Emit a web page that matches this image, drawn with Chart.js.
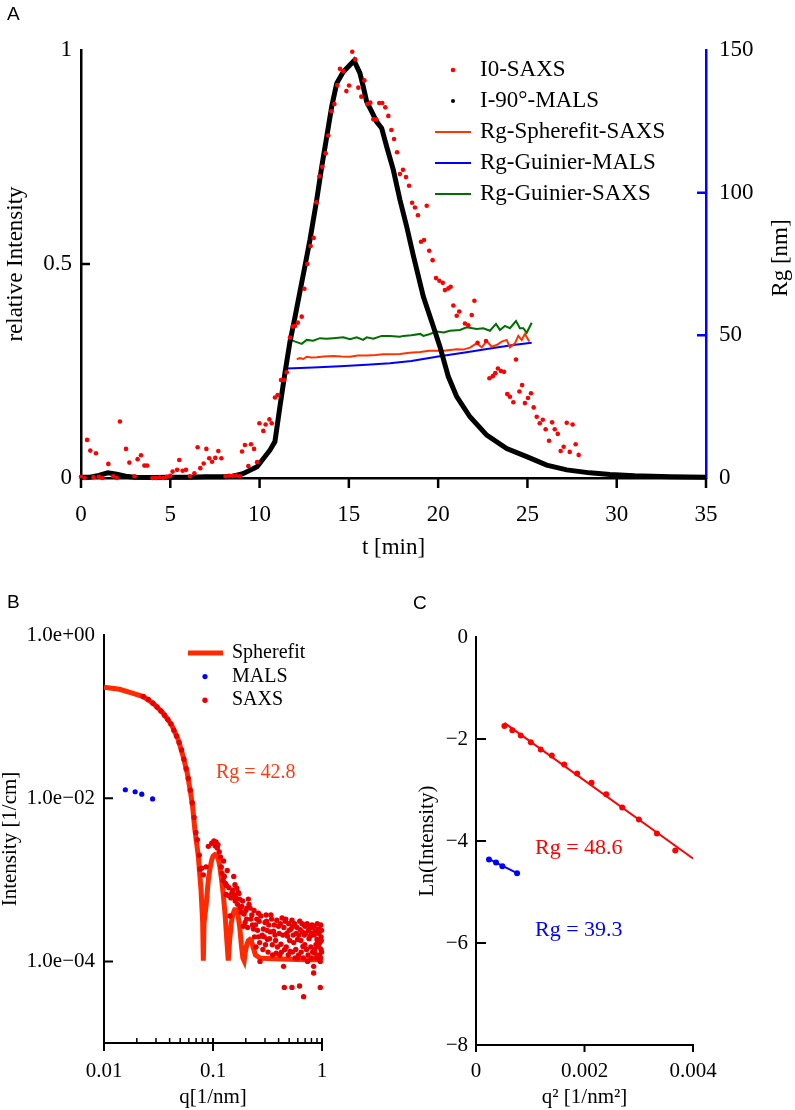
<!DOCTYPE html>
<html>
<head>
<meta charset="utf-8">
<script src="https://cdn.jsdelivr.net/npm/chart.js@4.4.0/dist/chart.umd.min.js"></script>
<style>
  body { margin: 0; background: #fff; }
  #page { position: relative; width: 795px; height: 1110px; }
  canvas { position: absolute; }
  .tag { position: absolute; z-index: 2; font-family: "Liberation Sans", Arial, sans-serif; font-size: 19px; color: #000; }
</style>
</head>
<body>
<div id="page">
  <canvas id="chartA" width="795" height="580" style="left:0;top:0"></canvas>
  <canvas id="chartB" width="400" height="520" style="left:0;top:590px"></canvas>
  <canvas id="chartC" width="395" height="520" style="left:400px;top:590px"></canvas>
  <div class="tag" style="left:7px;top:3px">A</div>
  <div class="tag" style="left:7px;top:591px">B</div>
  <div class="tag" style="left:413px;top:592px">C</div>
</div>
<script>
// ==================== PANEL A : elution ====================
const saxsT = [0.0, 0.2, 0.34, 0.52, 0.7, 0.84, 1.0, 1.2, 1.53, 1.8, 2.0, 2.18, 2.52, 2.71, 3.0, 3.17, 3.36, 3.55, 3.7,
  4.0, 4.2, 4.4, 4.6, 4.8, 5.0, 5.13, 5.38, 5.5, 5.69, 5.88, 6.1, 6.35, 6.53, 6.68, 6.87, 7.02, 7.18, 7.34, 7.52, 7.69, 7.86,
  8.1, 8.3, 8.5, 8.7, 8.9, 9.02, 9.18, 9.37, 9.52, 9.69, 9.86, 9.99, 10.21, 10.34, 10.55, 10.68, 10.86, 11.01, 11.2, 11.37,
  11.52, 11.7, 11.86, 11.98, 12.14, 12.36, 12.51, 12.67, 12.86, 13.03, 13.18, 13.35, 13.51, 13.7, 13.85, 14.02, 14.19, 14.35,
  14.5, 14.69, 14.86, 15.01, 15.19, 15.36, 15.53, 15.7, 15.87, 16.03, 16.2, 16.37, 16.54, 16.7, 16.87, 17.04, 17.21, 17.38,
  17.53, 17.7, 17.86, 18.03, 18.2, 18.37, 18.54, 18.7, 18.87, 19.04, 19.21, 19.36, 19.5, 19.69, 19.88, 20.07, 20.26, 20.38,
  20.57, 20.7, 20.85, 21.04, 21.18, 21.5, 21.69, 21.88, 22.03, 22.21, 22.68, 22.87, 23.06, 23.2, 23.35, 23.52, 23.69, 23.87,
  24.02, 24.21, 24.36, 24.55, 24.7, 24.86, 25.03, 25.2, 25.35, 25.52, 25.69, 25.86, 26.02, 26.21, 26.38, 26.53, 26.7, 26.86,
  27.03, 27.2, 27.37, 27.53, 27.7, 27.87];
const saxsI = [0.003, 0.0, 0.089, 0.064, 0.002, 0.058, 0.003, 0.0, 0.033, 0.004, 0.0, 0.132, 0.068, 0.036, 0.004, 0.044, 0.053, 0.029, 0.029,
  0.0, 0.0, 0.001, 0.0, 0.003, 0.005, 0.015, 0.019, 0.042, 0.017, 0.019, 0.004, 0.011, 0.072, 0.023, 0.034, 0.068, 0.046, 0.038, 0.047, 0.063, 0.046,
  0.004, 0.005, 0.005, 0.006, 0.004, 0.062, 0.077, 0.028, 0.079, 0.068, 0.037, 0.128, 0.11, 0.125, 0.137, 0.128, 0.188, 0.194, 0.229, 0.229,
  0.247, 0.328, 0.354, 0.355, 0.363, 0.377, 0.442, 0.5, 0.542, 0.561, 0.644, 0.705, 0.727, 0.759, 0.8, 0.857, 0.874, 0.918,
  0.956, 0.951, 0.904, 0.917, 0.996, 0.978, 0.912, 0.891, 0.929, 0.874, 0.877, 0.838, 0.838, 0.876, 0.876, 0.866, 0.846, 0.813,
  0.792, 0.761, 0.71, 0.72, 0.703, 0.683, 0.643, 0.632, 0.614, 0.552, 0.556, 0.636, 0.531, 0.509, 0.467, 0.461, 0.456, 0.439,
  0.443, 0.447, 0.403, 0.379, 0.389, 0.361, 0.357, 0.381, 0.414, 0.316, 0.32, 0.233, 0.238, 0.245, 0.256, 0.25, 0.248, 0.196,
  0.19, 0.177, 0.277, 0.202, 0.217, 0.175, 0.187, 0.198, 0.165, 0.143, 0.128, 0.136, 0.114, 0.087, 0.13, 0.114, 0.103, 0.063,
  0.073, 0.129, 0.061, 0.125, 0.079, 0.054];

const malsT = [0, 0.5, 1.0, 1.5, 2.0, 2.5, 3, 4, 5, 6, 7, 8, 8.5, 9.07, 9.86, 10.58, 10.86, 11.14, 11.42, 11.7, 11.98, 12.26,
  12.54, 12.82, 13.2, 13.48, 13.76, 14.04, 14.32, 14.69, 15.06, 15.29, 15.62, 15.81, 16.0, 16.28, 16.56, 16.84, 17.12, 17.49,
  17.86, 18.24, 18.61, 19.17, 19.73, 20.1, 20.57, 21.04, 21.78, 22.72, 23.84, 24.96, 26.08, 27.2, 28.5, 29.62, 31, 33, 35];
const malsI = [0.002, 0.002, 0.006, 0.012, 0.009, 0.004, 0.002, 0.001, 0.002, 0.002, 0.003, 0.003, 0.004, 0.01, 0.026, 0.065, 0.085, 0.167, 0.245, 0.318, 0.375, 0.435,
  0.495, 0.556, 0.65, 0.727, 0.797, 0.868, 0.922, 0.949, 0.965, 0.975, 0.946, 0.914, 0.879, 0.856, 0.832, 0.817, 0.774, 0.72,
  0.65, 0.587, 0.52, 0.424, 0.354, 0.307, 0.237, 0.19, 0.143, 0.1, 0.069, 0.05, 0.03, 0.019, 0.012, 0.008, 0.005, 0.003, 0.002];

const sphereT = [12.08, 12.26, 12.45, 12.64, 12.9, 13.2, 13.6, 14.13, 14.6, 15.06, 15.5, 16.0, 16.5, 16.93, 17.3, 17.86, 18.4, 19.0,
  19.5, 20.3, 21.04, 21.4, 21.78, 22.16, 22.44, 22.72, 23.0, 23.28, 23.56, 23.84, 24.02, 24.3, 24.49, 24.68, 24.86, 25.1];
const sphereRg = [41.6, 42.0, 41.7, 42.5, 42.2, 42.3, 42.6, 42.8, 42.6, 42.5, 42.9, 42.9, 43.1, 43.4, 43.4, 43.5, 43.9, 44.2,
  44.6, 44.6, 45.1, 45.0, 45.7, 47.2, 45.8, 48.0, 46.0, 46.6, 47.8, 48.4, 45.8, 47.2, 49.8, 48.4, 50.5, 47.8];

const guinMalsT = [11.52, 13, 14.5, 16, 17.3, 18.5, 20, 21.5, 23, 24.2, 25.24];
const guinMalsRg = [38.4, 38.7, 39.2, 39.7, 40.2, 41.0, 42.6, 44.0, 45.5, 46.6, 47.4];

const guinSaxsT = [11.7, 12.0, 12.36, 12.64, 13.0, 13.38, 13.75, 14.13, 14.69, 15.06, 15.44, 15.8, 16.0, 16.37, 16.84, 17.3, 17.86,
  18.05, 18.5, 19.0, 19.17, 19.5, 19.92, 20.3, 20.66, 21.22, 21.6, 22.16, 22.53, 22.9, 23.24, 23.46, 23.74, 24.02, 24.36, 24.58,
  24.77, 24.96, 25.24];
const guinSaxsRg = [48.6, 47.8, 47.0, 48.4, 48.1, 49.0, 48.8, 49.0, 49.3, 48.6, 49.3, 48.4, 49.3, 48.8, 49.8, 49.8, 49.5,
  49.8, 50.0, 50.5, 49.8, 50.4, 51.3, 51.0, 51.6, 51.9, 52.8, 52.2, 52.5, 51.6, 54.0, 51.9, 53.3, 52.5, 55.0, 52.5,
  52.5, 50.9, 54.4];

const tTicks = [0, 5, 10, 15, 20, 25, 30, 35];
const intTicks = [0, 0.5, 1];
const intTickLabels = ['0', '0.5', '1'];
const rgTicks = [0, 50, 100, 150];

// ==================== PANEL B : scattering curve ====================
const fitQ = [0.01, 0.0139, 0.0185, 0.0229, 0.0282, 0.0349, 0.0417, 0.048, 0.0533, 0.058, 0.0624, 0.065, 0.0682, 0.0733, 0.0776,
  0.0804, 0.0815, 0.0828, 0.0863, 0.0906, 0.094, 0.0973, 0.1, 0.104, 0.108, 0.112, 0.116, 0.12, 0.124, 0.129, 0.134, 0.138,
  0.142, 0.147, 0.152, 0.158, 0.164, 0.17, 0.176, 0.182, 0.188, 0.193, 0.198, 0.204, 0.211, 0.218, 0.225, 0.233, 0.245, 0.27,
  0.35, 0.5, 0.7, 1.0];
const fitI = [0.229, 0.216, 0.193, 0.176, 0.146, 0.110, 0.0794, 0.0519, 0.0324, 0.0204, 0.0115, 0.0079, 0.0041, 0.00195, 0.00076,
  0.0003, 0.000102, 0.0003, 0.00047, 0.001, 0.0014, 0.00175, 0.00195, 0.00204, 0.002, 0.00178, 0.0014, 0.001, 0.00068, 0.00038, 0.00018, 0.000102,
  0.00018, 0.00029, 0.00038, 0.00043, 0.00043, 0.00036, 0.00026, 0.00016, 0.00011, 0.000102, 0.00013, 0.00016, 0.00018, 0.000186, 0.00018, 0.00015, 0.00012, 0.00011,
  0.000108, 0.000106, 0.000105, 0.000105];

const malsQ = [0.0157, 0.0193, 0.0222, 0.0279];
const malsIq = [0.0127, 0.0120, 0.0112, 0.0098];

const saxsQ = [0.0229, 0.0255, 0.0281, 0.0307, 0.0333, 0.0359, 0.0385, 0.0411, 0.0437, 0.0463, 0.0489, 0.0515, 0.0541, 0.0567,
  0.0593, 0.0619, 0.0645, 0.0671, 0.0697, 0.0718, 0.0748, 0.0759, 0.0787, 0.0815, 0.0863, 0.0906, 0.0973, 0.102, 0.1066, 0.1096,
  0.114, 0.119, 0.124, 0.125, 0.13, 0.132, 0.135, 0.138, 0.143, 0.149, 0.155, 0.159, 0.16, 0.165, 0.17, 0.175, 0.184, 0.19, 0.197,
  0.205, 0.211, 0.219, 0.227, 0.235, 0.245, 0.248, 0.26, 0.261, 0.27, 0.28, 0.29, 0.30, 0.31, 0.316, 0.32, 0.33, 0.34, 0.35,
  0.359, 0.37, 0.38, 0.399, 0.41, 0.42, 0.43, 0.444, 0.451, 0.46, 0.47, 0.483, 0.5, 0.51, 0.53, 0.53, 0.541, 0.55, 0.568, 0.58,
  0.597, 0.61, 0.622, 0.631, 0.64, 0.656, 0.668, 0.678, 0.69, 0.701, 0.72, 0.737, 0.75, 0.78, 0.8, 0.81, 0.826, 0.838, 0.838,
  0.85, 0.863, 0.88, 0.9, 0.92, 0.931, 0.95, 0.964, 0.964, 0.964, 0.98, 0.98,
  0.105, 0.111, 0.117, 0.121, 0.127, 0.133, 0.14, 0.146, 0.152, 0.157, 0.162, 0.168, 0.173, 0.178, 0.181, 0.187, 0.193, 0.2,
  0.203, 0.208, 0.214, 0.222, 0.23, 0.238, 0.24, 0.252, 0.256, 0.265, 0.268, 0.275, 0.283, 0.287, 0.295, 0.303, 0.307, 0.313,
  0.325, 0.335, 0.345, 0.353, 0.365, 0.375, 0.385, 0.39, 0.405, 0.415, 0.425, 0.437, 0.447, 0.455, 0.465, 0.475, 0.49, 0.495,
  0.505, 0.52, 0.535, 0.545, 0.56, 0.575, 0.59, 0.6, 0.615, 0.625, 0.645, 0.66, 0.675, 0.685, 0.695, 0.71, 0.73, 0.745, 0.76,
  0.77, 0.79, 0.805, 0.82, 0.845, 0.855, 0.87, 0.89, 0.905, 0.915, 0.94, 0.955, 0.97, 0.975, 0.99, 0.99, 0.985];
const saxsIq = [0.176, 0.162, 0.146, 0.131, 0.117, 0.104, 0.092, 0.081, 0.068, 0.058, 0.048, 0.039, 0.030, 0.023,
  0.0175, 0.0125, 0.0088, 0.0058, 0.0038, 0.0031, 0.0020, 0.00135, 0.00139, 0.00115, 0.00144, 0.00257, 0.0028, 0.0030, 0.0029, 0.00245,
  0.0022, 0.00144, 0.00098, 0.0017, 0.0009, 0.00066, 0.0013, 0.00064, 0.00036, 0.00069, 0.0011, 0.00087, 0.00055, 0.00079, 0.0007, 0.00058, 0.00047, 0.00027, 0.0003,
  0.00045, 0.00058, 0.00045, 0.00037, 0.00025, 0.00028, 0.00015, 0.0002, 0.00039, 0.0001, 0.000204, 0.00025, 0.0003, 0.00031, 0.000186, 0.00013, 0.00019, 0.00037, 0.00016,
  0.000234, 0.00021, 0.000126, 0.00027, 0.00012, 0.000162, 0.00034, 0.000087, 0.000048, 0.00031, 0.00015, 0.000204, 0.00024, 0.000132, 0.00032, 0.000048, 0.00027, 0.00017, 0.00011, 0.00022,
  0.000186, 0.00012, 0.00005, 0.000245, 0.00018, 0.00029, 0.000152, 0.000037, 0.00021, 0.00027, 0.00014, 0.0001, 0.00024, 0.000204, 0.00011, 0.00028, 0.000257, 0.000072, 0.000087,
  0.00021, 0.000126, 0.00016, 0.000186, 0.00025, 0.000152, 0.00012, 0.000245, 0.0001, 0.000048, 0.0002, 0.00014,
  0.0026, 0.0027, 0.0019, 0.0012, 0.0011, 0.00085, 0.0008, 0.0006, 0.00075, 0.00065, 0.0006, 0.0005, 0.00068, 0.00045, 0.0004, 0.00055, 0.00038, 0.00042,
  0.00033, 0.00026, 0.0005, 0.00033, 0.00028, 0.00042, 0.0002, 0.00033, 0.00024, 0.00031, 0.00017, 0.00036, 0.00021, 0.00014, 0.0002, 0.00016, 0.00037, 0.00024,
  0.00028, 0.00023, 0.00033, 0.00012, 0.00028, 0.00018, 0.00032, 0.00015, 0.00022, 0.00029, 0.00013, 0.00021, 0.00026, 0.00014, 0.00033, 0.00022, 0.00012, 0.00029,
  0.00018, 0.00025, 0.00013, 0.00021, 0.00029, 0.00014, 0.00026, 0.00011, 0.00021, 0.00031, 0.00013, 0.00023, 0.00011, 0.00028, 0.00016, 0.00022, 0.00029, 0.00012, 0.00019,
  0.00027, 0.00015, 0.00022, 0.00013, 0.00027, 0.00014, 0.00023, 0.00011, 0.00029, 0.00018, 0.00022, 0.00017, 0.00011, 0.00028, 0.00024, 0.00013, 0.00018];

const qTicks = [0.01, 0.1, 1];
const qTickLabels = ['0.01', '0.1', '1'];
const qMinor = [0.02, 0.03, 0.04, 0.05, 0.06, 0.07, 0.08, 0.09, 0.2, 0.3, 0.4, 0.5, 0.6, 0.7, 0.8, 0.9];
const iTicks = [0.0001, 0.01, 1];
const iTickLabels = ['1.0e\u221204', '1.0e\u221202', '1.0e+00'];

// ==================== PANEL C : Guinier plot ====================
const gSaxsQ2 = [0.000523, 0.00067, 0.000825, 0.00101, 0.001194, 0.001397, 0.001625, 0.001864, 0.002129, 0.0024, 0.002695, 0.003003, 0.003335, 0.003673];
const gSaxsLn = [-1.744, -1.828, -1.932, -2.063, -2.207, -2.324, -2.5, -2.677, -2.86, -3.082, -3.343, -3.578, -3.852, -4.185];
const gSaxsFitQ2 = [0.000523, 0.004];
const gSaxsFitLn = [-1.685, -4.342];
const gMalsQ2 = [0.00024, 0.000369, 0.000486, 0.000757];
const gMalsLn = [-4.362, -4.421, -4.493, -4.63];
const gMalsFitQ2 = [0.00024, 0.000757];
const gMalsFitLn = [-4.355, -4.63];

const q2Ticks = [0, 0.002, 0.004];
const q2TickLabels = ['0', '0.002', '0.004'];
const lnTicks = [-8, -6, -4, -2, 0];
const lnTickLabels = ['\u22128', '\u22126', '\u22124', '\u22122', '0'];

// ==================== HELPERS ====================
const SERIF = '"Liberation Serif", "Times New Roman", serif';
Chart.defaults.font.family = SERIF;
Chart.defaults.color = '#000';

const pts = (xs, ys) => xs.map((x, i) => ({ x: x, y: ys[i] }));

// tick marks, legend and free text drawn on top of the chart
const decor = {
  id: 'decor',
  afterDraw(chart, args, opts) {
    const ctx = chart.ctx;
    ctx.save();
    (opts.ticks || []).forEach(t => {
      const s = chart.scales[t.scale];
      ctx.strokeStyle = t.color || '#000';
      ctx.lineWidth = t.width || 2;
      ctx.beginPath();
      t.values.forEach(v => {
        const p = s.getPixelForValue(v);
        if (s.isHorizontal()) {
          ctx.moveTo(p, s.top - t.inner);
          ctx.lineTo(p, s.top + t.outer);
        } else if (s.position === 'left') {
          ctx.moveTo(s.right - t.outer, p);
          ctx.lineTo(s.right + t.inner, p);
        } else {
          ctx.moveTo(s.left - t.inner, p);
          ctx.lineTo(s.left + t.outer, p);
        }
      });
      ctx.stroke();
    });

    const lg = opts.legend;
    if (lg) {
      ctx.font = lg.font;
      ctx.textBaseline = 'middle';
      ctx.textAlign = 'left';
      chart.data.datasets.forEach((ds, i) => {
        if (!ds.legendKind) return;
        const y = lg.y + i * lg.rowH;
        if (ds.legendKind === 'dot') {
          ctx.fillStyle = ds.pointBackgroundColor || ds.borderColor;
          ctx.beginPath();
          ctx.arc(lg.markX, y, ds.legendRadius || 2.5, 0, Math.PI * 2);
          ctx.fill();
        } else {
          ctx.strokeStyle = ds.borderColor;
          ctx.lineWidth = ds.borderWidth;
          ctx.beginPath();
          ctx.moveTo(lg.lineX0, y);
          ctx.lineTo(lg.lineX1, y);
          ctx.stroke();
        }
        ctx.fillStyle = '#000';
        ctx.fillText(ds.label, lg.textX, y);
      });
    }

    (opts.texts || []).forEach(t => {
      ctx.save();
      ctx.font = t.font;
      ctx.fillStyle = t.color || '#000';
      ctx.textAlign = t.align || 'left';
      ctx.textBaseline = 'middle';
      ctx.translate(t.x, t.y);
      if (t.rotate) ctx.rotate(t.rotate);
      ctx.fillText(t.text, 0, 0);
      ctx.restore();
    });
    ctx.restore();
  }
};

const dotSet = (label, data, color, r, order, extra) => Object.assign({
  label: label, data: data, showLine: false, pointRadius: r, pointBorderWidth: 0,
  pointBackgroundColor: color, pointBorderColor: color, borderColor: color,
  order: order, clip: false, legendKind: 'dot', legendRadius: r
}, extra || {});

const lineSet = (label, data, color, w, order, extra) => Object.assign({
  label: label, data: data, showLine: true, pointRadius: 0, borderColor: color,
  borderWidth: w, tension: 0, order: order, clip: false, legendKind: 'line'
}, extra || {});

const baseOpts = {
  responsive: false,
  animation: false,
  devicePixelRatio: 1,
  events: []
};

// ==================== CHART A ====================
new Chart(document.getElementById('chartA'), {
  type: 'scatter',
  data: {
    datasets: [
      dotSet('I0-SAXS', pts(saxsT, saxsI), '#ff0000', 2.3, 0, { yAxisID: 'y' }),
      lineSet('I-90°-MALS', pts(malsT, malsI), '#000000', 5, 1, { yAxisID: 'y', legendKind: 'dot', legendRadius: 2, pointBackgroundColor: '#000' }),
      lineSet('Rg-Spherefit-SAXS', pts(sphereT, sphereRg), '#ff3300', 2, 3, { yAxisID: 'y2' }),
      lineSet('Rg-Guinier-MALS', pts(guinMalsT, guinMalsRg), '#0000ff', 2, 4, { yAxisID: 'y2' }),
      lineSet('Rg-Guinier-SAXS', pts(guinSaxsT, guinSaxsRg), '#006e00', 2, 2, { yAxisID: 'y2' })
    ]
  },
  options: Object.assign({}, baseOpts, {
    layout: { padding: { top: 50, left: 0, right: 0, bottom: 0 } },
    scales: {
      x: {
        type: 'linear', min: 0, max: 35,
        afterFit: s => { s.height = 102; },
        afterBuildTicks: s => { s.ticks = tTicks.map(v => ({ value: v })); },
        ticks: { font: { size: 23 }, color: '#000', padding: 23, maxRotation: 0, autoSkip: false },
        grid: { display: false, drawTicks: false },
        border: { color: '#000', width: 2.5 },
        title: { display: true, text: 't [min]', font: { size: 23 }, color: '#000', padding: { top: 0, bottom: 18 } }
      },
      y: {
        position: 'left', min: 0, max: 1,
        afterFit: s => { s.width = 81; },
        afterBuildTicks: s => { s.ticks = intTicks.map(v => ({ value: v })); },
        ticks: { font: { size: 23 }, color: '#000', padding: 9, callback: (v, i) => intTickLabels[i] },
        grid: { display: false, drawTicks: false },
        border: { color: '#000', width: 2.5 },
        title: { display: true, text: 'relative Intensity', font: { size: 23 }, color: '#000', padding: { top: 2, bottom: 0 } }
      },
      y2: {
        position: 'right', min: 0, max: 150,
        afterFit: s => { s.width = 89; },
        afterBuildTicks: s => { s.ticks = rgTicks.map(v => ({ value: v })); },
        ticks: { font: { size: 23 }, color: '#000', padding: 13 },
        grid: { display: false, drawTicks: false },
        border: { color: '#0000ff', width: 2.5 }
      }
    },
    plugins: {
      legend: { display: false },
      tooltip: { enabled: false },
      decor: {
        ticks: [
          { scale: 'x', values: tTicks, inner: 0, outer: 10, width: 2.5 },
          { scale: 'y', values: [0.5], inner: 9, outer: 0, width: 2.5 },
          { scale: 'y2', values: [50, 100], inner: 9, outer: 0, width: 2.5, color: '#0000ff' }
        ],
        legend: { font: '23px ' + SERIF, y: 70, rowH: 31, markX: 453, lineX0: 435, lineX1: 471, textX: 480 },
        texts: [
          { text: 'Rg [nm]', x: 781, y: 258, font: '23px ' + SERIF, align: 'center', rotate: -Math.PI / 2 }
        ]
      }
    }
  }),
  plugins: [decor]
});

// ==================== CHART B ====================
new Chart(document.getElementById('chartB'), {
  type: 'scatter',
  data: {
    datasets: [
      lineSet('Spherefit', pts(fitQ, fitI), '#ff2a00', 5, 2),
      dotSet('MALS', pts(malsQ, malsIq), '#0000ff', 2.6, 1),
      dotSet('SAXS', pts(saxsQ, saxsIq), '#e80000', 2.7, 0)
    ]
  },
  options: Object.assign({}, baseOpts, {
    layout: { padding: { top: 45, left: 0, right: 78, bottom: 0 } },
    scales: {
      x: {
        type: 'logarithmic', min: 0.01, max: 1,
        afterFit: s => { s.height = 67; },
        afterBuildTicks: s => { s.ticks = qTicks.map(v => ({ value: v })); },
        ticks: { font: { size: 21 }, color: '#000', padding: 16, maxRotation: 0, autoSkip: false, callback: (v, i) => qTickLabels[i] },
        grid: { display: false, drawTicks: false },
        border: { color: '#000', width: 2 },
        title: { display: true, text: 'q[1/nm]', font: { size: 21 }, color: '#000', padding: { top: 0, bottom: 0 } }
      },
      y: {
        type: 'logarithmic', position: 'left', min: 0.00001, max: 1,
        afterFit: s => { s.width = 104; },
        afterBuildTicks: s => { s.ticks = iTicks.map(v => ({ value: v })); },
        ticks: { font: { size: 21 }, color: '#000', padding: 9, autoSkip: false, callback: (v, i) => iTickLabels[i] },
        grid: { display: false, drawTicks: false },
        border: { color: '#000', width: 2 },
        title: { display: true, text: 'Intensity [1/cm]', font: { size: 21, lineHeight: 1 }, color: '#000', padding: { top: 0, bottom: 0 } }
      }
    },
    plugins: {
      legend: { display: false },
      tooltip: { enabled: false },
      decor: {
        ticks: [
          { scale: 'x', values: qTicks, inner: 5, outer: 8, width: 2 },
          { scale: 'x', values: qMinor, inner: 5, outer: 0, width: 1.5 },
          { scale: 'y', values: [0.0001, 0.01], inner: 9, outer: 0, width: 2 }
        ],
        legend: { font: '20px ' + SERIF, y: 63, rowH: 23.6, markX: 205, lineX0: 188, lineX1: 223, textX: 232 },
        texts: [
          { text: 'Rg = 42.8', x: 216, y: 183, font: '20px ' + SERIF, color: '#ff3a10' }
        ]
      }
    }
  }),
  plugins: [decor]
});

// ==================== CHART C ====================
new Chart(document.getElementById('chartC'), {
  type: 'scatter',
  data: {
    datasets: [
      dotSet('SAXS', pts(gSaxsQ2, gSaxsLn), '#ff0000', 3, 0, { legendKind: null }),
      lineSet('SAXS fit', pts(gSaxsFitQ2, gSaxsFitLn), '#ff0000', 2, 1, { legendKind: null }),
      dotSet('MALS', pts(gMalsQ2, gMalsLn), '#0000ff', 3, 0, { legendKind: null }),
      lineSet('MALS fit', pts(gMalsFitQ2, gMalsFitLn), '#0000ff', 2, 1, { legendKind: null })
    ]
  },
  options: Object.assign({}, baseOpts, {
    layout: { padding: { top: 47, left: 0, right: 102, bottom: 0 } },
    scales: {
      x: {
        type: 'linear', min: 0, max: 0.004,
        afterFit: s => { s.height = 65; },
        afterBuildTicks: s => { s.ticks = q2Ticks.map(v => ({ value: v })); },
        ticks: { font: { size: 21 }, color: '#000', padding: 14, maxRotation: 0, autoSkip: false, callback: (v, i) => q2TickLabels[i] },
        grid: { display: false, drawTicks: false },
        border: { color: '#000', width: 2 },
        title: { display: true, text: 'q² [1/nm²]', font: { size: 21 }, color: '#000', padding: { top: 0, bottom: 0 } }
      },
      y: {
        position: 'left', min: -8, max: 0,
        afterFit: s => { s.width = 76; },
        afterBuildTicks: s => { s.ticks = lnTicks.map(v => ({ value: v })); },
        ticks: { font: { size: 21 }, color: '#000', padding: 8, autoSkip: false, callback: (v, i) => lnTickLabels[i] },
        grid: { display: false, drawTicks: false },
        border: { color: '#000', width: 2 },
        title: { display: true, text: 'Ln(Intensity)', font: { size: 21 }, color: '#000', padding: { top: 15, bottom: 0 } }
      }
    },
    plugins: {
      legend: { display: false },
      tooltip: { enabled: false },
      decor: {
        ticks: [
          { scale: 'x', values: q2Ticks, inner: 0, outer: 7, width: 2 },
          { scale: 'y', values: [-6, -4, -2], inner: 10, outer: 0, width: 2 }
        ],
        texts: [
          { text: 'Rg = 48.6', x: 135, y: 258, font: '22px ' + SERIF, color: '#ff0000' },
          { text: 'Rg = 39.3', x: 135, y: 340, font: '22px ' + SERIF, color: '#0000ff' }
        ]
      }
    }
  }),
  plugins: [decor]
});
</script>
</body>
</html>
